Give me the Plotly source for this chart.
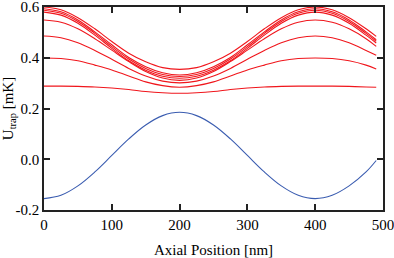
import plotly.graph_objects as go

x_nm = [0, 25, 50, 75, 100, 125, 150, 175, 200, 225, 250, 275, 300, 325, 350, 375, 400, 425, 450, 475, 490]

red_curves = [
    [.600, .589, .558, .514, .464, .418, .384, .361, .354, .361, .384, .418, .464, .514, .558, .589, .600, .589, .558, .514, .484],
    [.593, .581, .549, .502, .451, .401, .365, .341, .332, .341, .365, .401, .451, .502, .549, .581, .593, .581, .549, .502, .471],
    [.587, .575, .543, .496, .444, .395, .358, .334, .326, .334, .358, .395, .444, .496, .543, .575, .587, .575, .543, .496, .465],
    [.580, .568, .536, .489, .437, .388, .351, .327, .319, .327, .351, .388, .437, .489, .536, .568, .580, .568, .536, .489, .458],
    [.549, .540, .514, .475, .430, .385, .346, .320, .311, .320, .346, .385, .430, .475, .514, .540, .549, .540, .514, .475, .445],
    [.486, .479, .459, .429, .394, .358, .328, .308, .301, .308, .328, .358, .394, .429, .459, .479, .486, .479, .459, .429, .410],
    [.399, .397, .388, .371, .352, .328, .305, .290, .284, .290, .305, .328, .352, .371, .388, .397, .399, .397, .388, .371, .356],
    [.288, .288, .287, .285, .281, .275, .267, .262, .260, .262, .267, .275, .281, .285, .287, .288, .288, .288, .287, .285, .284],
]

blue_curve = [-.155, -.142, -.105, -.050, .015, .080, .135, .172, .185, .172, .135, .080, .015, -.050, -.105, -.142, -.155, -.142, -.105, -.050, -.005]

x_ticks = [0, 100, 200, 300, 400, 500]
y_ticks = [-0.2, 0.0, 0.2, 0.4, 0.6]

fig = go.Figure()
for ys in red_curves:
    fig.add_trace(go.Scatter(x=x_nm, y=ys, mode="lines",
                             line=dict(color="#f0161c", width=1.1, shape="spline", smoothing=1.0),
                             showlegend=False, hoverinfo="skip"))
fig.add_trace(go.Scatter(x=x_nm, y=blue_curve, mode="lines",
                         line=dict(color="#3a5cb0", width=1.1, shape="spline", smoothing=1.0),
                         showlegend=False, hoverinfo="skip"))

font = dict(family="Liberation Serif, Times New Roman, serif", size=15, color="#000")
axis_common = dict(showline=True, linecolor="#222", linewidth=1.6, mirror="ticks",
                   ticks="inside", ticklen=6, tickwidth=1.6, tickcolor="#222",
                   showgrid=False, zeroline=False, tickfont=font, automargin=False,
                   ticklabeloverflow="allow")

fig.update_xaxes(range=[0, 500], tickvals=x_ticks, ticktext=[str(v) for v in x_ticks],
                 title=dict(text="Axial Position [nm]", font=font, standoff=13), **axis_common)
fig.update_yaxes(range=[-0.2, 0.6], tickvals=y_ticks, ticktext=[f"{v:.1f}" for v in y_ticks],
                 title=dict(text="U<sub>trap</sub> [mK]", font=font, standoff=3), **axis_common)

fig.update_layout(width=394, height=258, margin=dict(l=44, r=11, t=7, b=48, autoexpand=False),
                  plot_bgcolor="white", paper_bgcolor="white", font=font)

fig.write_html("out.html", config={"displayModeBar": False},
               post_script="document.body.style.margin='0';document.body.style.overflow='hidden';")
